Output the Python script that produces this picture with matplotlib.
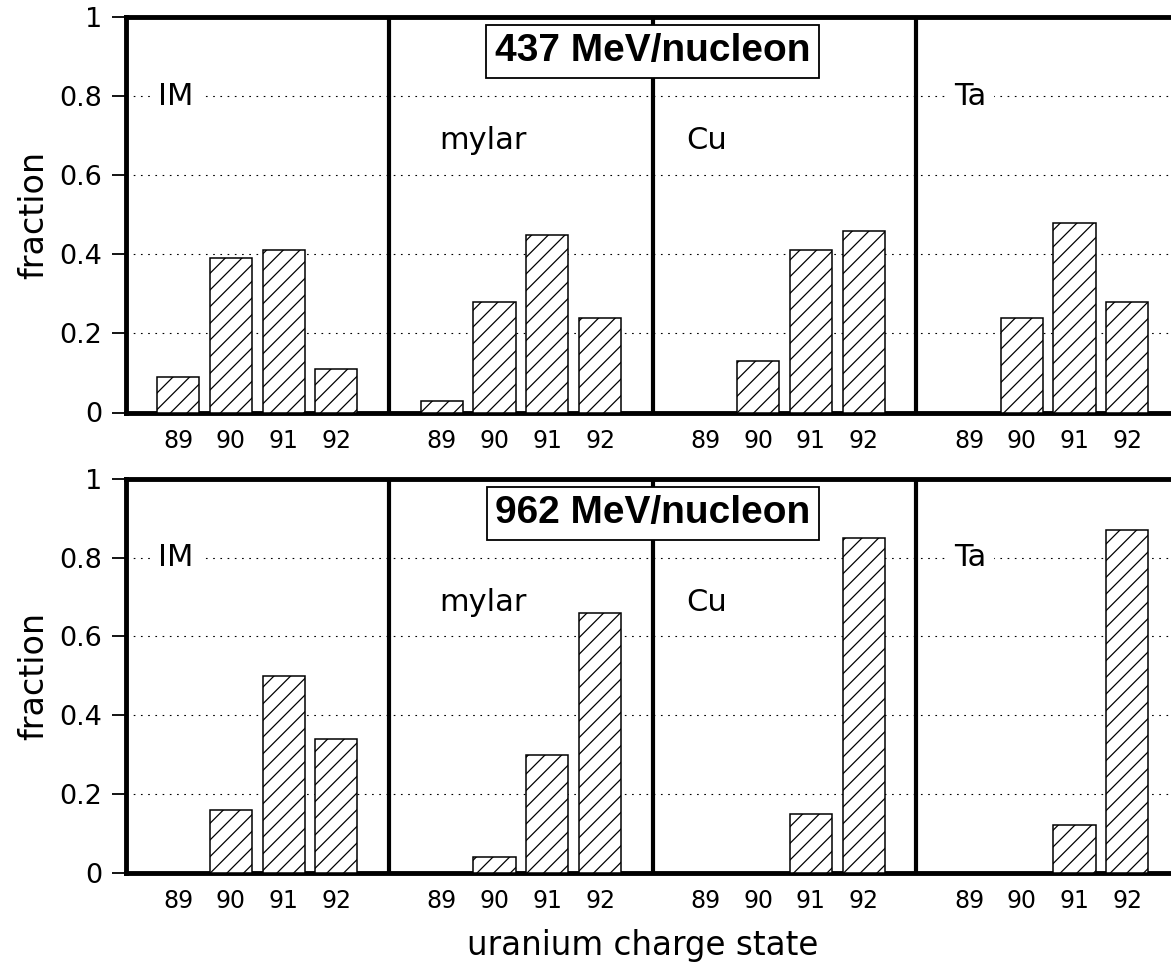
import numpy as np
import matplotlib
matplotlib.use("Agg")
import matplotlib.pyplot as plt

plt.rcParams['font.family'] = ['DejaVu Sans']
plt.rcParams['hatch.linewidth'] = 0.9

# charge state fractions of uranium after each target
charge_states = ['89', '90', '91', '92']
targets = ['IM', 'mylar', 'Cu', 'Ta']
energies = ['437 MeV/nucleon', '962 MeV/nucleon']

frac_437 = {
    'IM':    [0.09, 0.39, 0.41, 0.11],
    'mylar': [0.03, 0.28, 0.45, 0.24],
    'Cu':    [0.00, 0.13, 0.41, 0.46],
    'Ta':    [0.00, 0.24, 0.48, 0.28],
}
frac_962 = {
    'IM':    [0.00, 0.16, 0.50, 0.34],
    'mylar': [0.00, 0.04, 0.30, 0.66],
    'Cu':    [0.00, 0.00, 0.15, 0.85],
    'Ta':    [0.00, 0.00, 0.12, 0.87],
}

yticks = [0, 0.2, 0.4, 0.6, 0.8, 1.0]
ytick_labels = ['0', '0.2', '0.4', '0.6', '0.8', '1']

W, H = 1171, 977
fig = plt.figure(figsize=(W / 100, H / 100), dpi=100)

left_px, right_px = 125.5, 1180
rows_px = [(17, 412.5), (479, 872.7)]   # (top, zero line) in pixels

panel_w = 5
# label placement inside each panel: (x offset, y, vertical align)
label_pos = {
    'IM': (0.62, 0.8, 'center'),
    'mylar': (0.95, 0.665, 'baseline'),
    'Cu': (0.63, 0.665, 'baseline'),
    'Ta': (0.72, 0.8, 'center'),
}

for r, (energy, data) in enumerate(zip(energies, [frac_437, frac_962])):
    top, zero = rows_px[r]
    ax = fig.add_axes([left_px / W, 1 - zero / H,
                       (right_px - left_px) / W, (zero - top) / H])
    ax.set_xlim(0, panel_w * len(targets))
    ax.set_ylim(0, 1)

    xt, xl = [], []
    for k, t in enumerate(targets):
        x = panel_w * k + np.arange(1, len(charge_states) + 1)
        ax.bar(x, data[t], width=0.8, facecolor='white', edgecolor='black',
               linewidth=1.1, hatch='//', zorder=3)
        xt.extend(x)
        xl.extend(charge_states)
        dx, yy, va = label_pos[t]
        ax.text(panel_w * k + dx, yy, t, fontsize=22, va=va, ha='left',
                zorder=4,
                bbox=dict(facecolor='white', edgecolor='none', pad=5))
        if k > 0:
            ax.axvline(panel_w * k, color='black', lw=3.0, zorder=5)

    for g in [0.2, 0.4, 0.6, 0.8]:
        ax.axhline(g, color='black', lw=0.8, ls=(0, (1.5, 5)), zorder=1)

    ax.set_xticks(xt)
    ax.set_xticklabels(xl, fontsize=17)
    ax.tick_params(axis='x', length=0, pad=12)
    ax.set_yticks(yticks)
    ax.set_yticklabels(ytick_labels, fontsize=19.5)
    ax.tick_params(axis='y', length=10, width=1.3, pad=7, direction='out')
    for s in ax.spines.values():
        s.set_linewidth(3.5)
    ax.set_ylabel('fraction', fontsize=24, labelpad=6)

    ax.text(panel_w * 2, 0.913, energy, fontsize=28, fontweight='bold',
            family='Liberation Sans', ha='center', va='center', zorder=6,
            bbox=dict(boxstyle='square,pad=0.22', facecolor='white',
                      edgecolor='black', linewidth=1.3))

fig.text(643 / W, 1 - 955 / H, 'uranium charge state', fontsize=23.5,
         ha='center', va='baseline')

fig.savefig('out.png', dpi=100)
